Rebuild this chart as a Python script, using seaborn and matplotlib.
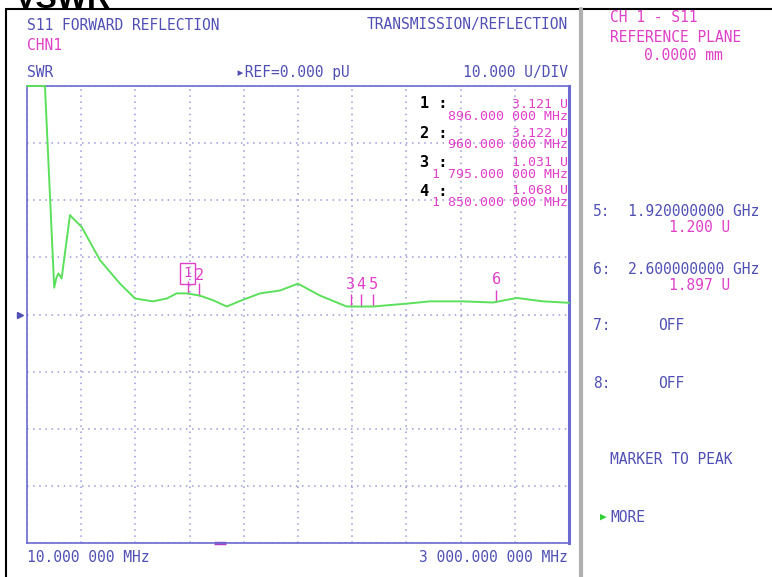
import numpy as np
import pandas as pd
import matplotlib
matplotlib.use("Agg")
import matplotlib.pyplot as plt
from matplotlib.lines import Line2D
from matplotlib.transforms import blended_transform_factory
import seaborn as sns

W, H = 772, 577

BLUE = "#5050b4"
MAGENTA = "#e040c8"
GREEN = "#5ce05c"
GRID = "#9a9ad8"
MONO = "DejaVu Sans Mono"

# ---------------------------------------------------------------------------
# Data
# ---------------------------------------------------------------------------
start_mhz = 10.0
stop_mhz = 3000.0
ref_level = 0.0
u_per_div = 10.0

freq_mhz = [10, 109, 160, 171, 183, 192, 201, 247, 265, 312, 413, 523, 606,
            705, 781, 836, 891, 964, 1036, 1112, 1195, 1296, 1406, 1505,
            1627, 1774, 1919, 2105, 2233, 2415, 2581, 2712, 2857, 3000]
swr_u = [40.0, 40.0, 4.7, 6.3, 7.2, 6.8, 6.3, 17.4, 16.8, 15.3, 9.5, 5.4,
         2.8, 2.3, 2.8, 3.7, 3.7, 3.3, 2.5, 1.4, 2.5, 3.7, 4.2, 5.4,
         3.3, 1.4, 1.4, 1.9, 2.3, 2.3, 2.1, 2.9, 2.3, 2.05]

marker_ids = ["1", "2", "3", "4", "5", "6"]
marker_freq = [896, 960, 1795, 1850, 1920, 2600]

readout_ids = ["1", "2", "3", "4"]
readout_vals = ["3.121 U", "3.122 U", "1.031 U", "1.068 U"]
readout_freqs = ["896.000 000 MHz", "960.000 000 MHz",
                 "1 795.000 000 MHz", "1 850.000 000 MHz"]

side_ids = ["5", "6", "7", "8"]
side_freqs = ["1.920000000 GHz", "2.600000000 GHz", "OFF", "OFF"]
side_vals = ["1.200 U", "1.897 U", "", ""]

df = pd.DataFrame({"freq": freq_mhz, "swr": swr_u})

# ---------------------------------------------------------------------------
# Figure
# ---------------------------------------------------------------------------
sns.set_style("white")
fig = plt.figure(figsize=(W / 100, H / 100), dpi=100)
fig.patch.set_facecolor("white")
ax = fig.add_axes([27 / W, 1 - 543 / H, 542 / W, 457 / H])

sns.lineplot(data=df, x="freq", y="swr", ax=ax, color=GREEN, linewidth=1.4)
for ln in ax.lines:
    ln.set_clip_on(False)
    ln.set_zorder(4)

ax.set_xlim(start_mhz, stop_mhz)
ax.set_ylim(ref_level - 4 * u_per_div, ref_level + 4 * u_per_div)
ax.set_xticks(np.linspace(start_mhz, stop_mhz, 11))
ax.set_yticks(np.arange(-4, 5) * u_per_div + ref_level)
ax.grid(True, linestyle=(0, (1, 3)), color=GRID, linewidth=1.1)
ax.tick_params(length=0, labelbottom=False, labelleft=False)
ax.set_xlabel("")
ax.set_ylabel("")
for side, sp in ax.spines.items():
    sp.set_color("#6a6ad0")
    sp.set_linewidth(1.2)
ax.spines["right"].set_linewidth(2.2)

# marker flags
du = u_per_div / 57.0  # one pixel in U
for mid, mf in zip(marker_ids, marker_freq):
    v = np.interp(mf, freq_mhz, swr_u)
    ax.vlines(mf, v, v + 12 * du, color=MAGENTA, linewidth=1)
    if mid == "1":
        ax.text(mf, v + 20 * du, mid, color=MAGENTA, fontsize=10, family=MONO,
                ha="center", va="center",
                bbox=dict(boxstyle="square,pad=0.25", fc="none", ec=MAGENTA, lw=1))
    elif mid == "2":
        ax.text(mf + 3, v + 20 * du, mid, color=MAGENTA, fontsize=11,
                family=MONO, ha="center", va="center")
    else:
        ax.text(mf, v + 22 * du, mid, color=MAGENTA, fontsize=11,
                family=MONO, ha="center", va="center")

# reference arrow on the left edge
tr = blended_transform_factory(ax.transAxes, ax.transData)
ax.plot([-0.013], [ref_level], marker=">", markersize=5, color=BLUE,
        transform=tr, clip_on=False)
# stimulus cursor on the bottom edge
trb = blended_transform_factory(ax.transData, ax.transAxes)
ax.plot([1075], [0], marker="_", markersize=8, mew=2.5, color="#b040c8",
        transform=trb, clip_on=False)


def ftxt(x, y, s, **kw):
    kw.setdefault("va", "center")
    kw.setdefault("family", MONO)
    kw.setdefault("fontsize", 10.5)
    kw.setdefault("color", BLUE)
    fig.text(x / W, 1 - y / H, s, **kw)


# header texts
ftxt(27, 25, "S11 FORWARD REFLECTION")
ftxt(568, 25, "TRANSMISSION/REFLECTION", ha="right")
ftxt(27, 45, "CHN1", color=MAGENTA)
ftxt(27, 72, "SWR")
ftxt(236, 72, "\u25b8REF=0.000 pU")
ftxt(568, 72, "10.000 U/DIV", ha="right")

# footer
ftxt(27, 557, "10.000 000 MHz")
ftxt(568, 557, "3 000.000 000 MHz", ha="right")

# marker readouts inside the grid
for i, (rid, rv, rf) in enumerate(zip(readout_ids, readout_vals, readout_freqs)):
    y0 = 104 + i * 29
    ftxt(420, y0, rid + " :", color="black", fontsize=11, weight="bold")
    ftxt(568, y0, rv, ha="right", color=MAGENTA, fontsize=9.5)
    ftxt(568, y0 + 12, rf, ha="right", color=MAGENTA, fontsize=9.5)

# right panel
ftxt(610, 18, "CH 1 - S11", color=MAGENTA)
ftxt(610, 37, "REFERENCE PLANE", color=MAGENTA)
ftxt(683, 56, "0.0000 mm", color=MAGENTA, ha="center")
for i, (sid, sf, sv) in enumerate(zip(side_ids, side_freqs, side_vals)):
    y0 = 212 + i * 57
    ftxt(593, y0, sid + ":")
    if sf == "OFF":
        ftxt(658, y0, sf)
    else:
        ftxt(628, y0, sf)
        ftxt(700, y0 + 16, sv, color=MAGENTA, ha="center")
ftxt(610, 460, "MARKER TO PEAK")
ftxt(600, 517, "\u25b6", color="#30d030", fontsize=8)
ftxt(610, 517, "MORE")

# screenshot frame and clipped title
fig.text(15 / W, 1 - 8 / H, "VSWR", family="Liberation Sans", weight="bold",
         fontsize=23, color="black", va="baseline", ha="left")
fig.add_artist(Line2D([6 / W, 1], [1 - 9 / H, 1 - 9 / H], color="black", lw=1.5))
fig.add_artist(Line2D([6 / W, 6 / W], [0, 1 - 9 / H], color="black", lw=1.5))
fig.add_artist(Line2D([581 / W, 581 / W], [0, 1 - 9 / H], color="#b0b0b0", lw=3))

fig.savefig("out.png", dpi=100, facecolor="white")
